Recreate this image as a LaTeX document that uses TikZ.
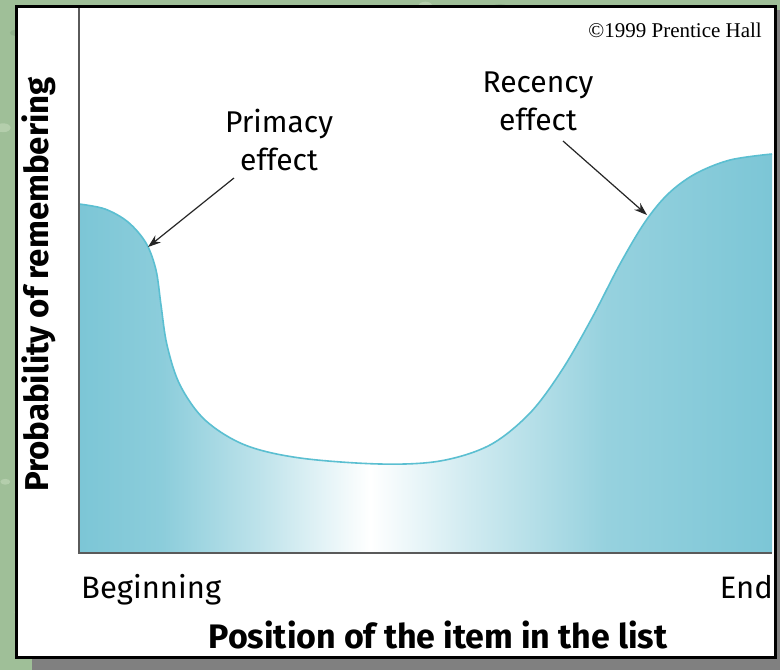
\documentclass[tikz,border=0pt]{standalone}
\usepackage{fontspec}
\setmainfont{Fira Sans}
\newfontfamily\cprfont{Liberation Serif}
\usetikzlibrary{arrows.meta}
\definecolor{bggreen}{HTML}{9FBF98}
\definecolor{bglight}{HTML}{C6DBBE}
\definecolor{bgdark}{HTML}{7FA27D}
\definecolor{tealfill}{HTML}{7CC6D6}
\definecolor{tealline}{HTML}{5BBFD1}
\definecolor{axisgray}{HTML}{5A5A5A}
\definecolor{shadowgray}{HTML}{808080}
\pgfdeclarehorizontalshading{memshade}{100bp}{%
  color(0bp)=(tealfill); color(25bp)=(tealfill);
  color(31bp)=(tealfill!88!white);
  color(38bp)=(tealfill!50!white);
  color(46bp)=(white);
  color(53bp)=(tealfill!35!white);
  color(63bp)=(tealfill!80!white);
  color(75bp)=(tealfill); color(100bp)=(tealfill)}
\tikzset{
  lbl/.style={inner sep=0pt, font=\fontsize{30}{38}\selectfont, align=center},
  ticklbl/.style={inner sep=0pt, font=\fontsize{31}{38}\selectfont},
  axlbl/.style={inner sep=0pt, font=\fontsize{34}{40}\selectfont\bfseries},
  ylbl/.style={inner sep=0pt, font=\fontsize{33}{40}\selectfont\bfseries},
  pointer/.style={draw=black!85, line width=1.2pt, -{Stealth[length=13pt,width=9pt]}},
  axisline/.style={draw=axisgray, line width=1.3pt},
}
\def\memcurve{(79,204) (105,209) (128,222) (146,243) (156,270) (161,305) (167,345) (180,385) (205,420) (245,445) (300,458) (380,464) (440,461) (490,445) (530,413) (562,370) (592,318) (620,264) (645,222) (668,194) (695,174) (730,160) (772,154)}
\begin{document}
\begin{tikzpicture}[x=1pt,y=-1pt]
\useasboundingbox (0,0) rectangle (780,670);
% background
\fill[bggreen] (0,0) rectangle (780,670);
\pgfmathsetseed{7}
\foreach \i in {1,...,160}{
  \pgfmathsetmacro{\px}{rnd*780}
  \pgfmathsetmacro{\py}{rnd*670}
  \pgfmathsetmacro{\pr}{4+rnd*10}
  \pgfmathsetmacro{\pc}{rnd}
  \ifdim\pc pt>0.5pt
    \fill[bglight, opacity=0.55] (\px,\py) ellipse ({\pr} and {\pr*0.6});
  \else
    \fill[bgdark, opacity=0.45] (\px,\py) ellipse ({\pr} and {\pr*0.6});
  \fi
}
% shadow
\fill[shadowgray] (32,659) rectangle (780,670);
\fill[shadowgray] (777,10) rectangle (780,670);
% panel
\filldraw[fill=white, draw=black, line width=3pt] (16.5,6.5) rectangle (775,657);
% fill under curve
\shade[shading=memshade]
  (79,553) -- (79,204)
  -- plot[smooth, tension=0.55] coordinates {\memcurve}
  -- (772,553) -- cycle;
\draw[tealline, line width=1.6pt]
  plot[smooth, tension=0.55] coordinates {\memcurve};
% axes
\draw[axisline] (79,8) -- (79,553) -- (772,553);
% labels
\node[lbl, anchor=base] (primacy) at (279,170) {Primacy\\effect};
\node[lbl, anchor=base] (recency) at (538,130) {Recency\\effect};
\coordinate (pstart) at (234,178);
\coordinate (pend) at (148,247);
\coordinate (rstart) at (563,141);
\coordinate (rend) at (647,215);
\draw[pointer] (pstart) -- (pend);
\draw[pointer] (rstart) -- (rend);
\node[ticklbl, anchor=base west] (begin) at (81,598) {Beginning};
\node[ticklbl, anchor=base east] (end) at (773,598) {End};
\node[axlbl, anchor=base] (xlab) at (438,648) {Position of the item in the list};
\node[ylbl, anchor=base, rotate=90] (ylab) at (48,284.5) {Probability of remembering};
\node[inner sep=0pt, anchor=base east, font=\cprfont\fontsize{21}{24}\selectfont] (cpr) at (762,37) {©1999 Prentice Hall};
\end{tikzpicture}
\end{document}
